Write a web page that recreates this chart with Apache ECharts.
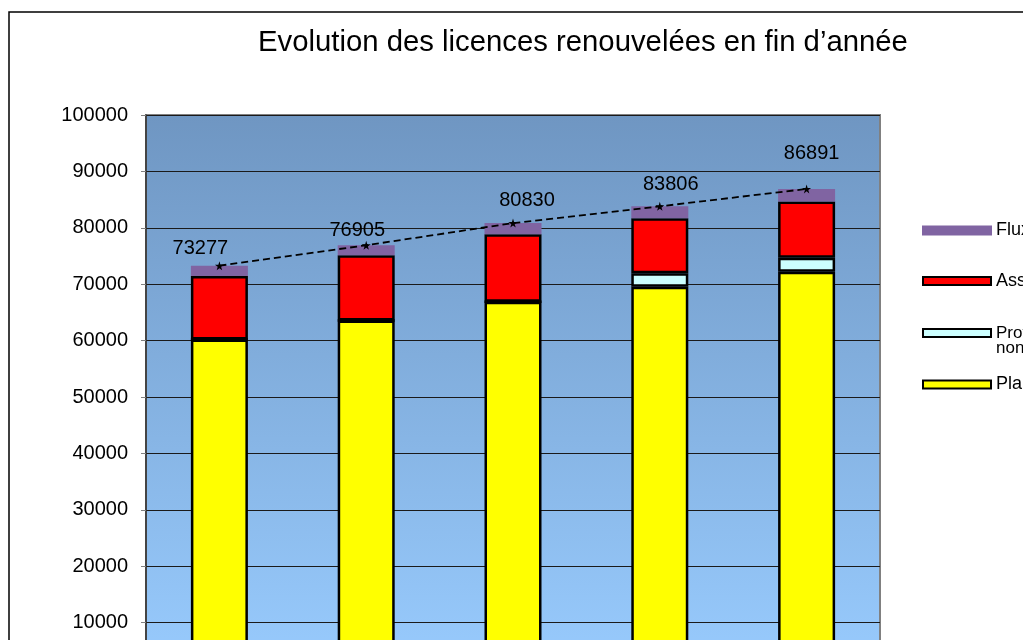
<!DOCTYPE html>
<html>
<head>
<meta charset="utf-8">
<script src="https://cdn.jsdelivr.net/npm/echarts@6/dist/echarts.min.js"></script>
<style>html,body{margin:0;padding:0;background:#fff}#c{width:1023px;height:640px}</style>
</head>
<body>
<div id="c"></div>
<script>
// ---- data ----
var categories = ['2005', '2006', '2007', '2008', '2009'];
var plaisir = [60200, 63550, 66900, 69550, 72200];
var professionnels = [0, 0, 0, 2400, 2500];
var assimiles = [11250, 11600, 11950, 9750, 9950];
var flux = [1827, 1755, 1980, 2106, 2241];
var totals = [73277, 76905, 80830, 83806, 86891];
var seriesNames = ['Plaisance', 'Professionnels\nnon résidents', 'Associations', 'Flux'];

// ---- layout / style config ----
var labelOffsets = [[-19, -17], [-9, -15], [14, -23], [11, -22], [5, -35]];
var FONT = "'Liberation Sans', Arial, sans-serif";

var chart = echarts.init(document.getElementById('c'));

function barSeries(name, data, color, border) {
  return {
    name: name, type: 'bar', stack: 'total', data: data, barWidth: 57,
    itemStyle: { color: color, borderColor: border, borderWidth: 2.5 },
    emphasis: { disabled: true }
  };
}

function legendAt(name, top, extra) {
  return Object.assign({
    show: true, orient: 'vertical', left: 922, top: top, padding: 0,
    itemWidth: 68, itemHeight: 8, itemGap: 0, icon: 'rect', data: [name],
    selectedMode: false,
    textStyle: { fontFamily: FONT, fontSize: 18, color: '#000', lineHeight: 18 }
  }, extra || {});
}

var option = {
  animation: false,
  backgroundColor: '#fff',
  title: {
    text: 'Evolution des licences renouvelées en fin d\u2019année',
    left: 258, top: 28, padding: 0,
    textStyle: { fontFamily: FONT, fontSize: 29.3, fontWeight: 'normal', color: '#000' }
  },
  graphic: [{
    type: 'rect', z: -10, silent: true,
    shape: { x: 9, y: 12, width: 1200, height: 800 },
    style: { fill: 'none', stroke: '#000', lineWidth: 1.5 }
  }],
  legend: [
    legendAt(seriesNames[3], 221.5),
    legendAt(seriesNames[2], 272),
    legendAt(seriesNames[1], 309.5, {
      formatter: function (n) { return '\n' + n; },
      textStyle: { fontFamily: FONT, fontSize: 17, color: '#000', lineHeight: 15 }
    }),
    legendAt(seriesNames[0], 375.5)
  ],
  grid: {
    show: true, outerBoundsMode: 'none', containLabel: false,
    left: 146, width: 734, top: 115, height: 564,
    backgroundColor: {
      type: 'linear', x: 0, y: 0, x2: 0, y2: 1,
      colorStops: [{ offset: 0, color: '#6f96c2' }, { offset: 1, color: '#99ccff' }]
    },
    borderColor: '#808080', borderWidth: 2
  },
  xAxis: {
    type: 'category', data: categories,
    axisLine: { show: true, lineStyle: { color: '#404040' } },
    axisTick: { show: false },
    axisLabel: { fontFamily: FONT, fontSize: 20, color: '#000' },
    splitLine: { show: false }
  },
  yAxis: {
    type: 'value', min: 0, max: 100000, interval: 10000,
    axisLine: { show: true, lineStyle: { color: '#303030', width: 1.5 } },
    axisTick: { show: true, inside: false, length: 5, lineStyle: { color: '#808080' } },
    axisLabel: { fontFamily: FONT, fontSize: 20, color: '#000', margin: 18,
      formatter: function (v) { return String(v); } },
    splitLine: { show: true, lineStyle: { color: '#1a1a1a', width: 1 } }
  },
  series: [
    barSeries(seriesNames[0], plaisir, '#ffff00', '#000'),
    barSeries(seriesNames[1], professionnels, '#ccffff', '#000'),
    barSeries(seriesNames[2], assimiles, '#ff0000', '#000'),
    barSeries(seriesNames[3], flux, '#8064a2', '#8064a2'),
    {
      name: 'Total', type: 'line',
      data: totals.map(function (v, i) {
        return { value: v, label: { offset: labelOffsets[i] } };
      }),
      symbol: 'path://M50,0 L61,35 L98,35 L68,57 L79,91 L50,70 L21,91 L32,57 L2,35 L39,35 Z',
      symbolSize: 9,
      itemStyle: { color: '#000' },
      lineStyle: { color: '#000', width: 1.8, type: [7, 4] },
      label: { show: true, position: 'inside', fontFamily: FONT, fontSize: 20, color: '#000' },
      emphasis: { disabled: true },
      z: 5
    }
  ]
};
chart.setOption(option);
</script>
</body>
</html>
